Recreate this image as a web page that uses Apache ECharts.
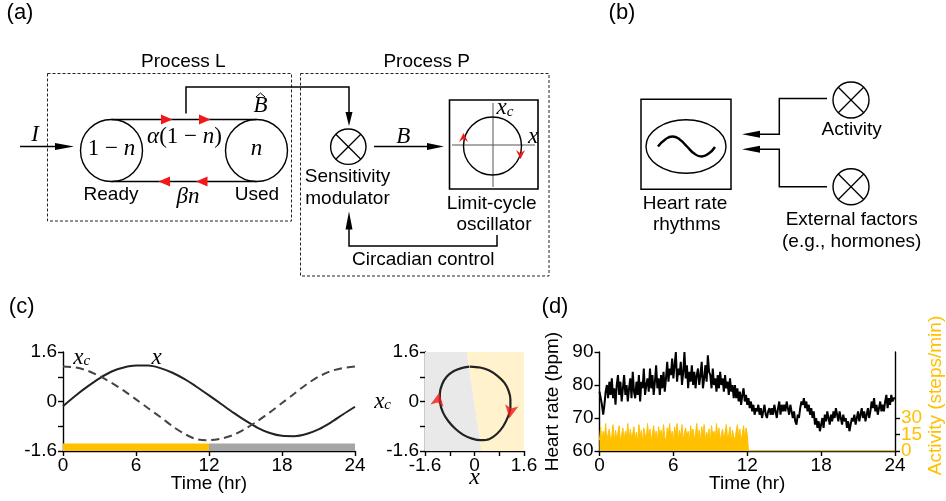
<!DOCTYPE html>
<html><head><meta charset="utf-8">
<script src="https://cdn.jsdelivr.net/npm/echarts@6.0.0/dist/echarts.min.js"></script>
<style>html,body{margin:0;padding:0;background:#fff}#c{width:946px;height:501px}</style>
</head><body><div id="c"></div>
<script>
// ---------------- DATA ----------------
// Panel (c): model output, one value per hour, t = 0..24 h
const hours = [0,1,2,3,4,5,6,7,8,9,10,11,12,13,14,15,16,17,18,19,20,21,22,23,24];
const xSim  = [-0.15,0.18,0.48,0.75,0.97,1.10,1.16,1.16,1.08,0.93,0.72,0.47,0.20,-0.08,-0.36,-0.62,-0.85,-1.02,-1.11,-1.12,-1.05,-0.90,-0.68,-0.42,-0.17];
const xcSim = [1.13,1.10,1.00,0.82,0.60,0.35,0.07,-0.22,-0.50,-0.80,-1.05,-1.22,-1.25,-1.20,-1.08,-0.88,-0.63,-0.35,-0.05,0.25,0.55,0.80,0.98,1.08,1.13];
const photoperiods = [[0,12],[12,24]];            // light, dark (hours)
const phaseBoundary = [[-0.25,1.6],[0.23,-1.6]];  // light/dark split in (x, xc) plane
const phaseArrows = [[-1.14,0.28],[1.13,-0.54]];  // direction markers on the loop
const cTicks = ['-1.6','0','1.6'];
const timeTicks = [0,6,12,18,24];

// Panel (d): heart rate (bpm), sampled every 0.1 h from 0 to 24 h
const hrStep = 0.1;
const heartRate = [
78,76,74,71,74,78,80,76,81,77,
82,76,79,74,80,83,77,81,75,79,
83,77,80,75,79,82,76,84,78,76,
81,77,83,75,81,79,85,77,80,82,
78,85,79,83,77,81,86,79,82,77,
83,79,84,78,82,87,81,85,83,88,
82,86,90,81,85,83,87,80,84,90,
82,86,79,84,81,86,80,84,79,83,
85,80,83,87,79,82,86,81,89,84,
83,79,85,80,82,78,83,79,84,80,
82,78,83,79,81,77,82,78,80,76,
80,76,79,75,78,74,77,79,75,77,
74,76,73,75,72,74,71,73,72,74,
71,73,70,72,74,71,70,72,73,71,
73,71,74,72,70,73,75,71,74,72,
74,72,75,73,71,74,72,70,72,69,
68,71,70,73,75,74,76,73,75,72,
74,71,73,70,72,68,70,67,69,66,
68,70,67,71,69,72,70,68,71,69,
72,70,73,71,69,72,70,68,71,69,
70,67,69,66,68,70,69,71,68,70,
72,69,71,73,70,72,69,71,73,70,
72,75,73,76,72,74,71,73,75,72,
74,72,75,77,73,76,74,77,75,76,
76];
// Activity (steps/min), every 0.1 h from 0 to 12 h; zero afterwards
const activity = [
10,22,8,18,12,25,8,16,20,9,
14,24,8,19,11,17,23,8,15,21,
9,18,13,25,8,20,12,16,22,10,
17,8,24,13,19,8,21,15,11,25,
12,20,9,16,23,11,18,8,22,14,
19,10,24,13,8,21,16,25,11,18,
8,22,15,25,10,19,13,24,9,17,
21,12,18,8,23,14,20,10,16,25,
11,19,8,22,15,24,9,17,13,20,
8,23,14,18,10,25,12,21,8,16,
20,9,17,24,11,15,22,8,19,13,
10,18,24,12,20,8,16,23,11,21,
15];
const activityAfter = [[12.1,0],[24,0]];
const hrTicks = [60,70,80,90];
const actLabelValues = [0,15,30];

// ---------------- STYLE ----------------
const SANS = '"Liberation Sans", Arial, sans-serif';
const SERIF = '"Liberation Serif", "Times New Roman", serif';
const YEL = '#FFC000';

// ---------------- DIAGRAM GRAPHICS ----------------
const g = [];
function txt(x, y, text, o) {
  o = o || {};
  g.push({type:'text', x:x, y:y, z:10, style:Object.assign({
    text:text, fill:o.color||'#000',
    font:(o.italic?'italic ':'') + (o.size||19) + 'px ' + (o.family||SANS),
    textAlign:o.align||'center', align:o.align||'center',
    textVerticalAlign:'middle', verticalAlign:'middle'
  }, o.extra||{})});
}
function mathTxt(x, y, text, rich) {
  g.push({type:'text', x:x, y:y, z:10, style:{text:text, rich:rich,
    font:'23px ' + SERIF, fill:'#000', textAlign:'center', align:'center',
    textVerticalAlign:'middle', verticalAlign:'middle'}});
}
function line(x1,y1,x2,y2,o){o=o||{};g.push({type:'line',shape:{x1:x1,y1:y1,x2:x2,y2:y2},style:{stroke:o.color||'#000',lineWidth:o.w||1.5}});}
function pline(pts,o){o=o||{};g.push({type:'polyline',shape:{points:pts,smooth:o.smooth||0},style:{stroke:o.color||'#000',fill:null,lineWidth:o.w||1.5}});}
function circ(cx,cy,r,o){o=o||{};g.push({type:'circle',shape:{cx:cx,cy:cy,r:r},style:{stroke:'#000',fill:'none',lineWidth:o.w||1.4}});}
function head(tx,ty,dir,len,hw,color){
  let p;
  if(dir==='r')p=[[tx,ty],[tx-len,ty-hw],[tx-len,ty+hw]];
  if(dir==='l')p=[[tx,ty],[tx+len,ty-hw],[tx+len,ty+hw]];
  if(dir==='u')p=[[tx,ty],[tx-hw,ty+len],[tx+hw,ty+len]];
  if(dir==='d')p=[[tx,ty],[tx-hw,ty-len],[tx+hw,ty-len]];
  g.push({type:'polygon',shape:{points:p},style:{fill:color||'#000'}});
}
function dart(tx,ty,dir,len,hw){
  let p;
  if(dir==='u')p=[[tx,ty],[tx-hw,ty+len],[tx,ty+len*0.65],[tx+hw,ty+len]];
  if(dir==='d')p=[[tx,ty],[tx-hw,ty-len],[tx,ty-len*0.65],[tx+hw,ty-len]];
  g.push({type:'polygon',shape:{points:p},style:{fill:'#F01818'}});
}
function otimes(cx,cy,r){circ(cx,cy,r);const d=r*0.7071;line(cx-d,cy-d,cx+d,cy+d,{w:1.3});line(cx-d,cy+d,cx+d,cy-d,{w:1.3});}
function dashRect(x,y,w,h){g.push({type:'rect',shape:{x:x,y:y,width:w,height:h},style:{stroke:'#222',fill:'none',lineWidth:1,lineDash:[3,2]}});}

const richU = {u:{fontFamily:SERIF,fontSize:23}, i:{fontFamily:SERIF,fontSize:23,fontStyle:'italic'}};
const richSub = {i:{fontFamily:SERIF,fontSize:23,fontStyle:'italic'}, s:{fontFamily:SERIF,fontSize:15,fontStyle:'italic',verticalAlign:'bottom',padding:[8,0,0,0]}};

// panel labels
txt(20,13,'(a)',{size:22}); txt(622,13,'(b)',{size:22});
txt(21.7,307,'(c)',{size:22}); txt(555,307,'(d)',{size:22});

// ---- (a) Process L ----
dashRect(47.5,73.5,244,147.5);
txt(183.3,61.7,'Process L');
circ(111.5,150.5,31); circ(256.5,150.5,31);
line(111.5,119.5,256.5,119.5); line(111.5,181.5,256.5,181.5);
head(172.5,119.5,'r',11.5,5,'#F01818'); head(210.5,119.5,'r',11.5,5,'#F01818');
head(158.5,181.5,'l',11.5,5,'#F01818'); head(196,181.5,'l',11.5,5,'#F01818');
mathTxt(111.5,148.5,'{u|1 − }{i|n}',richU);
mathTxt(256.5,148.5,'{i|n}',richU);
mathTxt(184.5,137,'{i|α}{u|(1 − }{i|n}{u|)}',richU);
mathTxt(188,197,'{i|βn}',richU);
txt(111,195,'Ready'); txt(257,195,'Used');
mathTxt(35,135,'{i|I}',richU);
line(20,146.5,58,146.5); head(74,146.5,'r',19,3.5);
mathTxt(260.5,105.5,'{i|B}',richU);
pline([[256,97],[260.5,93],[265,97]],{w:1});
pline([[186,113.5],[186,87],[349,87],[349,113]]); head(349,126,'d',14,3.5);

// ---- (a) Process P ----
dashRect(300.5,73.5,248.5,202.5);
txt(426.7,61.7,'Process P');
otimes(348.3,146.7,17.7);
txt(347.5,176.7,'Sensitivity'); txt(347.5,198.3,'modulator');
line(374,146.5,427,146.5); head(444,146.5,'r',17,3.5);
mathTxt(403.3,136.7,'{i|B}',richU);
g.push({type:'rect',shape:{x:449.5,y:100,width:88.5,height:89},style:{stroke:'#000',fill:'none',lineWidth:1.6}});
line(452,145,535,145,{color:'#555',w:1}); line(493,103,493,187,{color:'#555',w:1});
circ(492.5,146,29);
dart(463.5,133,'u',9,4.5); dart(520.5,159,'d',9,4.5);
mathTxt(505,108,'{i|x}{s|c}',richSub);
mathTxt(533,137,'{i|x}',richU);
txt(491.7,203.3,'Limit-cycle'); txt(494,225,'oscillator');
pline([[497,235],[497,246],[349,246],[349,229]]); head(349,211.5,'u',18,3.5);
txt(423.3,260,'Circadian control');

// ---- (b) ----
g.push({type:'rect',shape:{x:641,y:99.3,width:90,height:90},style:{stroke:'#000',fill:'none',lineWidth:1.5}});
g.push({type:'ellipse',shape:{cx:686,cy:146.5,rx:40,ry:26.7},style:{stroke:'#000',fill:'none',lineWidth:1.4}});
pline([[658,146.5],[665.2,139.4],[672.5,136.5],[679.7,139.4],[687,146.5],[694.2,153.6],[701.5,156.5],[708.7,153.6],[715,147]],{smooth:0.5,w:2.4});
txt(685,203.3,'Heart rate'); txt(686.7,225,'rhythms');
otimes(851,100,18); otimes(851,186.7,18);
pline([[827,98.5],[779.3,98.5],[779.3,134.3],[760,134.3]]); head(742,134.3,'l',18,3.5);
pline([[827,186.7],[779.3,186.7],[779.3,149.3],[760,149.3]]); head(742,149.3,'l',18,3.5);
txt(851.7,130,'Activity'); txt(851.7,220,'External factors'); txt(851.7,241.7,'(e.g., hormones)');

// ---- (c) curve labels ----
mathTxt(81.7,357.5,'{i|x}{s|c}',richSub);
mathTxt(156.7,357.5,'{i|x}',richU);

// ---------------- CHART ----------------
function baseAxis(o){
  const a = {
    axisLine:{show:true,onZero:false,lineStyle:{color:'#000',width:1.4}},
    axisTick:{show:true,inside:false,length:5,lineStyle:{color:'#000',width:1.4}},
    axisLabel:{color:'#000',fontSize:19,fontFamily:SANS,margin:6,hideOverlap:false,showMinLabel:true,showMaxLabel:true},
    splitLine:{show:false},
    nameTextStyle:{color:'#000',fontSize:19,fontFamily:SANS},
    nameMoveOverlap:false
  };
  for(const k in o){ if(a[k] && typeof a[k]==='object' && typeof o[k]==='object' && !Array.isArray(o[k])) a[k]=Object.assign({},a[k],o[k]); else a[k]=o[k]; }
  return a;
}
const cFmt = v => { const s = (Math.round(v*10)/10).toString(); return cTicks.indexOf(s)>=0 ? s : ''; };
// activity labels split across two coincident right axes so none is auto-hidden
const actOuter = actLabelValues.filter((v,i)=>i%2===0);  // 0, 30
const actInner = actLabelValues.filter((v,i)=>i%2===1);  // 15

const option = {
  animation:false,
  textStyle:{fontFamily:SANS},
  graphic:{elements:g},
  grid:[
    {left:63, top:352, width:292, height:99},
    {left:425, top:352, width:99, height:99},
    {left:599.5, top:352, width:297, height:99}
  ],
  xAxis:[
    baseAxis({gridIndex:0,type:'value',min:0,max:24,interval:6,name:'Time (hr)',nameLocation:'middle',nameGap:23,axisLabel:{margin:5}}),
    baseAxis({gridIndex:1,type:'value',min:-1.6,max:1.6,interval:0.8,name:'x',nameLocation:'middle',nameGap:15,
      nameTextStyle:{fontFamily:SERIF,fontStyle:'italic',fontSize:24,color:'#000'},axisLabel:{margin:5,formatter:cFmt}}),
    baseAxis({gridIndex:2,type:'value',min:0,max:24,interval:6,name:'Time (hr)',nameLocation:'middle',nameGap:23,axisLabel:{margin:5}})
  ],
  yAxis:[
    baseAxis({gridIndex:0,type:'value',min:-1.6,max:1.6,interval:0.8,axisLabel:{formatter:cFmt}}),
    baseAxis({gridIndex:1,type:'value',min:-1.6,max:1.6,interval:0.8,axisLabel:{formatter:cFmt},
      name:'{i|x}{s|c}',nameLocation:'middle',nameRotate:0,nameGap:34,
      nameTextStyle:{rich:richSub}}),
    baseAxis({gridIndex:2,type:'value',min:hrTicks[0],max:hrTicks[hrTicks.length-1],interval:10,
      name:'Heart rate (bpm)',nameLocation:'middle',nameRotate:90,nameGap:37}),
    baseAxis({gridIndex:2,type:'value',position:'right',min:0,max:90,interval:15,
      axisTick:{customValues:actLabelValues},
      axisLabel:{color:YEL,customValues:actOuter,formatter:v=>actOuter.indexOf(v)>=0?String(v):''},
      name:'Activity (steps/min)',nameLocation:'middle',nameRotate:90,nameGap:31,
      nameTextStyle:{color:YEL,fontSize:19,fontFamily:SANS,padding:[0,0,0,12]}}),
    baseAxis({gridIndex:2,type:'value',position:'right',offset:0,min:0,max:90,interval:15,
      axisLine:{show:false},axisTick:{show:false},
      axisLabel:{color:YEL,customValues:actInner,formatter:v=>actInner.indexOf(v)>=0?String(v):''}})
  ],
  series:[
    {type:'line',xAxisIndex:0,yAxisIndex:0,data:hours.map((h,i)=>[h,xSim[i]]),smooth:0.3,symbol:'none',
      lineStyle:{color:'#222',width:2},z:3,
      markArea:{silent:true,data:photoperiods.map((p,i)=>[
        {xAxis:p[0],yAxis:-1.6,itemStyle:{color:i===0?YEL:'#A6A6A6'}},{xAxis:p[1],yAxis:-1.36}])}},
    {type:'line',xAxisIndex:0,yAxisIndex:0,data:hours.map((h,i)=>[h,xcSim[i]]),smooth:0.3,symbol:'none',
      lineStyle:{color:'#444',width:2,type:[8,5]},z:3},
    {type:'custom',xAxisIndex:1,yAxisIndex:1,silent:true,z:1,data:[[0],[1]],
      renderItem:(params,api)=>{
        const a=phaseBoundary[0], b=phaseBoundary[1];
        const poly = params.dataIndex===0
          ? [[-1.6,1.6],a,b,[-1.6,-1.6]]
          : [a,[1.6,1.6],[1.6,-1.6],b];
        return {type:'polygon',shape:{points:poly.map(p=>api.coord(p))},
          style:{fill:params.dataIndex===0?'#E9E9E9':'#FFF2CC'}};
      }},
    {type:'line',xAxisIndex:1,yAxisIndex:1,data:xSim.map((v,i)=>[v,xcSim[i]]),smooth:0.3,symbol:'none',
      lineStyle:{color:'#222',width:2.2},z:3},
    {type:'scatter',xAxisIndex:1,yAxisIndex:1,symbol:'arrow',symbolSize:[10,13],z:5,
      itemStyle:{color:'#F01818'},
      data:[{value:phaseArrows[0],symbolRotate:-10},{value:phaseArrows[1],symbolRotate:170}]},
    {type:'line',xAxisIndex:2,yAxisIndex:3,symbol:'none',z:2,
      data:activity.map((v,i)=>[+(i*hrStep).toFixed(1),v]).concat(activityAfter),
      lineStyle:{color:YEL,width:1},areaStyle:{color:YEL,opacity:1}},
    {type:'line',xAxisIndex:2,yAxisIndex:2,symbol:'none',z:3,
      data:heartRate.map((v,i)=>[+(i*hrStep).toFixed(1),v]),
      lineStyle:{color:'#000',width:2}}
  ]
};
const chart = echarts.init(document.getElementById('c'),null,{renderer:'canvas',width:946,height:501});
chart.setOption(option);
</script></body></html>
